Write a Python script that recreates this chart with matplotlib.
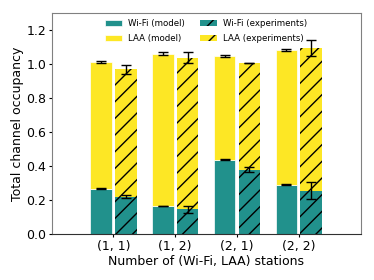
import matplotlib
matplotlib.use("Agg")
import matplotlib.pyplot as plt
import numpy as np

categories = ["(1, 1)", "(1, 2)", "(2, 1)", "(2, 2)"]
wifi_model = [0.268, 0.165, 0.438, 0.290]
wifi_model_err = [0.003, 0.002, 0.003, 0.002]
total_model = [1.013, 1.062, 1.047, 1.084]
total_model_err = [0.005, 0.007, 0.005, 0.007]
wifi_exp = [0.220, 0.146, 0.380, 0.256]
wifi_exp_err = [0.010, 0.020, 0.016, 0.050]
total_exp = [0.969, 1.039, 1.006, 1.094]
total_exp_err = [0.026, 0.030, 0.002, 0.048]

laa_model = [t - w for t, w in zip(total_model, wifi_model)]
laa_exp = [t - w for t, w in zip(total_exp, wifi_exp)]

teal = "#21918c"
yellow = "#fde725"

plt.rcParams['hatch.linewidth'] = 1.0
fig, ax = plt.subplots(figsize=(3.74, 2.80), dpi=100)
x = np.arange(len(categories))
w = 0.35
off = 0.2
ekw = dict(ecolor="black", capsize=3.5, elinewidth=1.0, capthick=1.0)

ax.bar(x - off, wifi_model, w, color=teal, edgecolor="white", linewidth=0.5,
       yerr=wifi_model_err, error_kw=ekw, label="Wi-Fi (model)")
ax.bar(x - off, laa_model, w, bottom=wifi_model, color=yellow, edgecolor="white",
       linewidth=0.5, yerr=total_model_err, error_kw=ekw, label="LAA (model)")
ax.bar(x + off, wifi_exp, w, color=teal, edgecolor="black", linewidth=0,
       hatch="//", yerr=wifi_exp_err, error_kw=ekw, label="Wi-Fi (experiments)")
ax.bar(x + off, laa_exp, w, bottom=wifi_exp, color=yellow, edgecolor="black",
       linewidth=0, hatch="//", yerr=total_exp_err, error_kw=ekw,
       label="LAA (experiments)")

ax.set_xlim(-1, 4)
ax.set_ylim(0, 1.3)
ax.set_xticks(x)
ax.set_xticklabels(categories)
ax.set_yticks([0.0, 0.2, 0.4, 0.6, 0.8, 1.0, 1.2])
ax.set_xlabel("Number of (Wi-Fi, LAA) stations", fontsize=9, labelpad=1.5)
ax.set_ylabel("Total channel occupancy", fontsize=9, labelpad=1.5)
ax.tick_params(labelsize=9, length=2.5, pad=1.5)
for s in ax.spines.values():
    s.set_color("#808080")
ax.spines['bottom'].set_color("#303030")

ax.legend(ncol=2, loc="upper center", frameon=False, fontsize=6.2,
          columnspacing=1.7, handlelength=2.0, handletextpad=0.7,
          borderaxespad=0.3, labelspacing=0.65)

fig.subplots_adjust(left=0.138, right=0.964, top=0.953, bottom=0.164)
fig.savefig("out.png", dpi=100)
